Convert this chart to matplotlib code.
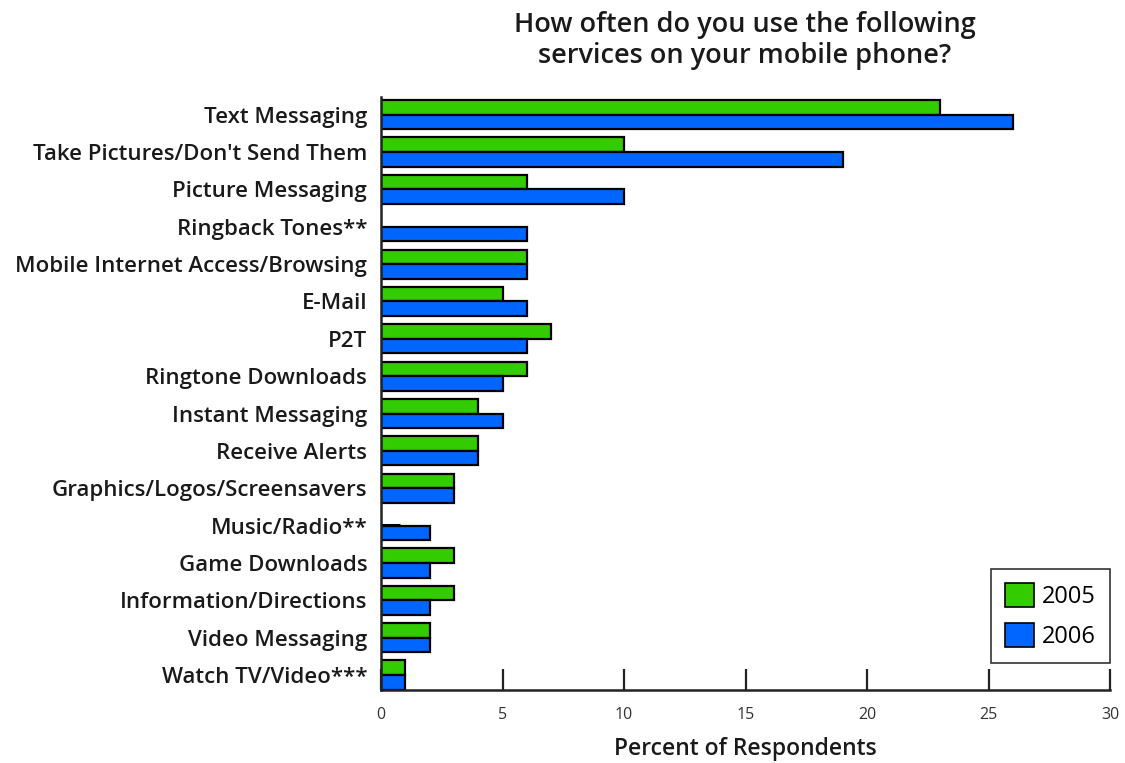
import matplotlib.pyplot as plt
import numpy as np

categories = [
    "Text Messaging",
    "Take Pictures/Don't Send Them",
    "Picture Messaging",
    "Ringback Tones**",
    "Mobile Internet Access/Browsing",
    "E-Mail",
    "P2T",
    "Ringtone Downloads",
    "Instant Messaging",
    "Receive Alerts",
    "Graphics/Logos/Screensavers",
    "Music/Radio**",
    "Game Downloads",
    "Information/Directions",
    "Video Messaging",
    "Watch TV/Video***",
]
# None = not asked that year
pct_2005 = [23, 10, 6, None, 6, 5, 7, 6, 4, 4, 3, 0.8, 3, 3, 2, 1]
pct_2006 = [26, 19, 10, 6, 6, 6, 6, 5, 5, 4, 3, 2, 2, 2, 2, 1]
years = ["2005", "2006"]
x_ticks = [0, 5, 10, 15, 20, 25, 30]

GREEN = "#33cc00"
BLUE = "#0066ff"
FONT = "Open Sans"
INK = "#1a1a1a"

fig = plt.figure(figsize=(11.25, 7.63), dpi=100)
ax = fig.add_axes([0.3387, 0.0957, 0.648, 0.777])

y = np.arange(len(categories))
h = 0.39
for i, v in enumerate(pct_2005):
    if v is None:
        continue
    if v < 1:
        # sub-1% value shown as a stub line
        ax.plot([0, v], [y[i] - 0.02, y[i] - 0.02], color="black", lw=2.2,
                solid_capstyle="butt")
    else:
        ax.barh(y[i] - h / 2, v, height=h, color=GREEN, edgecolor="black", lw=1.6)
ax.barh(y + h / 2, pct_2006, height=h, color=BLUE, edgecolor="black", lw=1.6)

ax.set_xlim(0, 30)
ax.set_ylim(15.4, -0.47)
ax.set_yticks(y)
ax.set_yticklabels(categories, fontsize=16, family=FONT, weight="semibold", color=INK)
ax.tick_params(axis="y", length=0, pad=10)
ax.set_xticks(x_ticks)
ax.set_xticklabels([str(t) for t in x_ticks], fontsize=11.5, family=FONT, color="#333333")
ax.tick_params(axis="x", direction="in", length=15, width=1.6, pad=12, color="#222222")

for side in ("top", "right"):
    ax.spines[side].set_visible(False)
for side in ("left", "bottom"):
    ax.spines[side].set_linewidth(1.8)
    ax.spines[side].set_color("#222222")

ax.set_xlabel("Percent of Respondents", fontsize=16.5, family=FONT, weight="semibold",
              color=INK, labelpad=10)
fig.text(0.662, 0.985, "How often do you use the following\nservices on your mobile phone?",
         ha="center", va="top", fontsize=19.5, family=FONT, weight="semibold", color=INK,
         linespacing=1.1)

handles = [plt.Rectangle((0, 0), 1, 1, facecolor=GREEN, edgecolor="black", lw=1.2),
           plt.Rectangle((0, 0), 1, 1, facecolor=BLUE, edgecolor="black", lw=1.2)]
leg = ax.legend(handles, years, loc="lower right", bbox_to_anchor=(1.0, 0.045),
                borderaxespad=0, fancybox=False, edgecolor="#333333", framealpha=1,
                prop={"family": FONT, "size": 17}, handlelength=1.2, handleheight=1.2,
                borderpad=0.6, labelspacing=0.6, handletextpad=0.35)
leg.get_frame().set_linewidth(1.2)

fig.savefig("out.png", dpi=100)
